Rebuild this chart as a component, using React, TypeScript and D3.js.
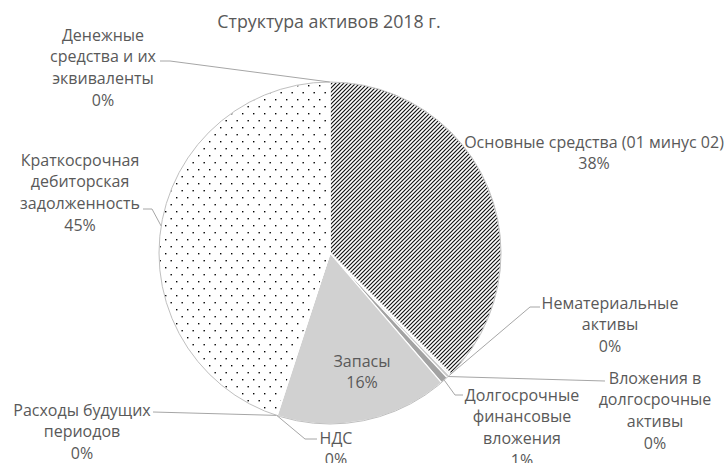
import React from "react";
import * as d3 from "d3";

const title = "Структура активов 2018 г.";
const categories = [
  "Основные средства (01 минус 02)",
  "Нематериальные активы",
  "Вложения в долгосрочные активы",
  "Долгосрочные финансовые вложения",
  "Запасы",
  "НДС",
  "Расходы будущих периодов",
  "Краткосрочная дебиторская задолженность",
  "Денежные средства и их эквиваленты",
];
const values = [37.5, 0.2, 0.3, 0.7, 16.3, 0.05, 0.05, 44.85, 0.05];
const labelLines = [
  ["Основные средства (01 минус 02)"],
  ["Нематериальные", "активы"],
  ["Вложения в", "долгосрочные", "активы"],
  ["Долгосрочные", "финансовые", "вложения"],
  ["Запасы"],
  ["НДС"],
  ["Расходы будущих", "периодов"],
  ["Краткосрочная", "дебиторская", "задолженность"],
  ["Денежные", "средства и их", "эквиваленты"],
];

// layout (not data)
const W = 727, H = 463;
const CX = 330, CY = 253, R = 171;
const fills = ["url(#hatch)", "#f2f2f2", "#c9c9c9", "#a3a3a3", "#d1d1d1", "#d1d1d1", "#ffffff", "url(#dots)", "#ffffff"];
const labelPos: [number, number][] = [
  [594, 142], [610, 303], [655, 378], [522, 395], [362, 361], [336, 438], [82, 410], [80, 160], [103, 35],
];
const leaderStart: ([number, number][] | null)[] = [
  null,
  [[540, 307], [530, 307]],
  [[605, 381]],
  [[463, 395], [455, 395]],
  null,
  [[317, 439], [305, 439]],
  [[153, 412]],
  [[143, 209], [152, 209]],
  [[160, 61], [170, 61]],
];
const LINE = 21.8;
const FONT = "'Open Sans', 'Noto Sans', sans-serif";
const TXT = "#595959";

export default function App() {
  const pie = d3.pie<number>().sort(null).value((d) => d);
  const arcs = pie(values);
  const total = d3.sum(values);
  const arcGen = d3.arc<d3.PieArcDatum<number>>().innerRadius(0).outerRadius(R);
  return (
    <svg width={W} height={H} style={{ position: "absolute", left: 0, top: 0 }}>
      <defs>
        <pattern id="hatch" patternUnits="userSpaceOnUse" width={4} height={4}>
          <rect width={4} height={4} fill="#fff" />
          <path d="M-1,1 l2,-2 M0,4 l4,-4 M3,5 l2,-2" stroke="#111" strokeWidth={1.15} />
        </pattern>
        <pattern id="dots" patternUnits="userSpaceOnUse" width={11} height={14}>
          <rect width={11} height={14} fill="#fff" />
          <rect x={0} y={0} width={1.4} height={1.4} fill="#000" />
          <rect x={5.5} y={7} width={1.4} height={1.4} fill="#000" />
        </pattern>
      </defs>
      <rect width={W} height={H} fill="#fff" />
      <text x={329} y={28} textAnchor="middle" fontFamily={FONT} fontSize={17.8} fill={TXT}>
        {title}
      </text>
      <g transform={`translate(${CX},${CY})`}>
        {arcs.map((a, i) => (
          <path key={categories[i]} d={arcGen(a) || ""} fill={fills[i]} stroke="#fff" strokeWidth={1.2} />
        ))}
        <circle r={R} fill="none" stroke="#bfbfbf" strokeWidth={1} />
      </g>
      {arcs.map((a, i) => {
        const st = leaderStart[i];
        if (!st) return null;
        const mid = (a.startAngle + a.endAngle) / 2;
        const px = CX + R * Math.sin(mid);
        const py = CY - R * Math.cos(mid);
        const pts = [...st, [px, py]];
        return (
          <polyline key={"l" + i} points={pts.map((p) => p.join(",")).join(" ")} fill="none" stroke="#a6a6a6" strokeWidth={1} />
        );
      })}
      {arcs.map((a, i) => {
        const pct = Math.round((values[i] / total) * 100) + "%";
        const lines = [...labelLines[i], pct];
        const [x, y] = labelPos[i];
        return (
          <text key={"t" + i} fontFamily={FONT} fontSize={16} fill={TXT} textAnchor="middle">
            {lines.map((ln, j) => (
              <tspan key={j} x={x} y={y + j * LINE + 5.5}>
                {ln}
              </tspan>
            ))}
          </text>
        );
      })}
    </svg>
  );
}
